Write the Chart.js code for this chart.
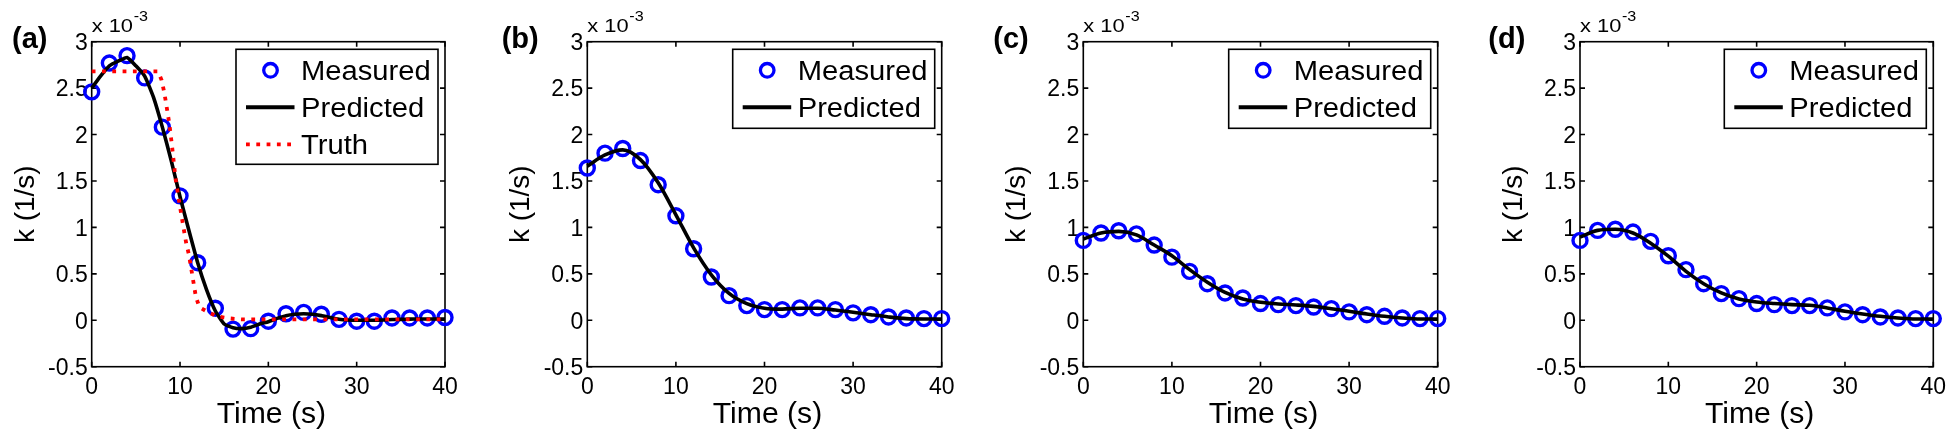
<!DOCTYPE html>
<html>
<head>
<meta charset="utf-8">
<script src="https://cdn.jsdelivr.net/npm/chart.js@4.4.1/dist/chart.umd.min.js"></script>
<style>
  html, body { margin: 0; padding: 0; background: #fff; }
  #wrap { position: relative; width: 1950px; height: 436px; overflow: hidden; }
  #wrap canvas { position: absolute; top: 0; }
</style>
</head>
<body>
<div id="wrap">
  <canvas id="pa" width="490" height="436" style="left:0px"></canvas>
  <canvas id="pb" width="485" height="436" style="left:490px"></canvas>
  <canvas id="pc" width="485" height="436" style="left:975px"></canvas>
  <canvas id="pd" width="490" height="436" style="left:1460px"></canvas>
</div>
<script>
// values in units of 1e-3 1/s (axis shows "x 10^-3")
const timeS = [0, 2, 4, 6, 8, 10, 12, 14, 16, 18, 20, 22, 24, 26, 28, 30, 32, 34, 36, 38, 40];

const measuredA = [2.46, 2.77, 2.85, 2.61, 2.08, 1.34, 0.62, 0.13, -0.095, -0.09, -0.01, 0.07, 0.085, 0.065, 0.01, -0.01, -0.01, 0.025, 0.025, 0.025, 0.03];
const predictedTimeA = [0, 1, 2, 3, 4, 5, 6, 7, 8, 9, 10, 11, 12, 13, 14, 15, 16, 17, 18, 19, 20,
                        21, 22, 23, 24, 25, 26, 27, 28, 29, 30, 31, 32, 33, 34, 35, 36, 37, 38, 39, 40];
const predictedA = [2.50, 2.63, 2.74, 2.79, 2.83, 2.74, 2.63, 2.40, 2.08, 1.72, 1.33, 0.97, 0.62, 0.33, 0.10, -0.04, -0.08, -0.09, -0.075, -0.04, -0.015,
                    0.02, 0.05, 0.065, 0.07, 0.065, 0.05, 0.03, 0.012, 0.003, 0, 0, 0, 0.003, 0.008, 0.01, 0.012, 0.014, 0.014, 0.014, 0.014];
const truthTime = [0, 7.5, 7.9, 8.2, 8.4, 8.6, 8.8, 9.1, 9.5, 9.9, 10.3, 10.7, 11.0, 11.4, 11.8, 12.2, 13.2, 14.3, 15.6, 17, 40];
const truthA = [2.68, 2.68, 2.59, 2.46, 2.35, 2.23, 2.11, 1.87, 1.52, 1.28, 1.05, 0.83, 0.71, 0.48, 0.25, 0.14, 0.086, 0.04, 0.02, 0.01, 0.01];

const measuredB = [1.64, 1.80, 1.85, 1.72, 1.46, 1.125, 0.77, 0.466, 0.265, 0.158, 0.115, 0.115, 0.133, 0.133, 0.115, 0.08, 0.06, 0.036, 0.025, 0.018, 0.018];
const predictedB = [1.66, 1.78, 1.835, 1.73, 1.48, 1.136, 0.78, 0.49, 0.29, 0.18, 0.13, 0.12, 0.13, 0.13, 0.11, 0.086, 0.06, 0.036, 0.018, 0.014, 0.014];

const measuredC = [0.86, 0.94, 0.964, 0.93, 0.81, 0.68, 0.527, 0.394, 0.294, 0.24, 0.18, 0.168, 0.158, 0.143, 0.125, 0.09, 0.06, 0.043, 0.025, 0.018, 0.018];
const predictedC = [0.875, 0.94, 0.957, 0.92, 0.81, 0.695, 0.545, 0.41, 0.30, 0.23, 0.194, 0.176, 0.165, 0.15, 0.125, 0.097, 0.068, 0.043, 0.025, 0.014, 0.014];

const measuredD = [0.86, 0.968, 0.98, 0.95, 0.85, 0.695, 0.545, 0.394, 0.287, 0.233, 0.18, 0.168, 0.158, 0.158, 0.133, 0.09, 0.06, 0.036, 0.025, 0.018, 0.018];
const predictedD = [0.896, 0.968, 0.98, 0.94, 0.83, 0.69, 0.527, 0.394, 0.294, 0.23, 0.197, 0.18, 0.168, 0.161, 0.133, 0.097, 0.068, 0.043, 0.025, 0.014, 0.014];

const xTicks = [0, 10, 20, 30, 40];
const xTickLabels = ['0', '10', '20', '30', '40'];
const yTicks = [-0.5, 0, 0.5, 1, 1.5, 2, 2.5, 3];
const yTickLabels = ['-0.5', '0', '0.5', '1', '1.5', '2', '2.5', '3'];
const panelLabels = ['(a)', '(b)', '(c)', '(d)'];
const seriesNames = ['Measured', 'Predicted', 'Truth'];

// layout of each panel inside its canvas
const panelBoxes = [
    { id: 'pa', width: 490, plotLeft: 91.7, plotRight: 445, labelX: 12 },
    { id: 'pb', width: 485, plotLeft: 97.3, plotRight: 451.7, labelX: 11.7 },
    { id: 'pc', width: 485, plotLeft: 108.3, plotRight: 462.7, labelX: 18.3 },
    { id: 'pd', width: 490, plotLeft: 120, plotRight: 473.3, labelX: 28.3 },
];
const PLOT_TOP = 41.7, PLOT_BOTTOM = 366.7, H = 436;
const FONT = '"Liberation Sans", Arial, Helvetica, sans-serif';
const BLUE = '#0000ff', RED = '#ff0000';

const pts = (xs, ys) => xs.map((x, i) => ({ x, y: ys[i] }));

function textAt(ctx, str, x, y, font, align, sx) {
    ctx.save();
    ctx.font = font;
    ctx.translate(x, y);
    ctx.scale(sx || 1, 1);
    ctx.textAlign = align || 'left';
    ctx.textBaseline = 'alphabetic';
    ctx.fillText(str, 0, 0);
    ctx.restore();
}

// matlab-like box with inward ticks, drawn under the data
const axesFrame = {
    id: 'axesFrame',
    beforeDatasetsDraw(chart) {
        const { ctx, chartArea: a, scales: { x, y } } = chart;
        ctx.save();
        ctx.strokeStyle = '#000';
        ctx.lineWidth = 1.6;
        ctx.strokeRect(a.left, a.top, a.width, a.height);
        ctx.beginPath();
        xTicks.forEach(v => {
            const px = x.getPixelForValue(v);
            ctx.moveTo(px, a.bottom); ctx.lineTo(px, a.bottom - 5);
            ctx.moveTo(px, a.top); ctx.lineTo(px, a.top + 5);
        });
        yTicks.forEach(v => {
            const py = y.getPixelForValue(v);
            ctx.moveTo(a.left, py); ctx.lineTo(a.left + 5, py);
            ctx.moveTo(a.right, py); ctx.lineTo(a.right - 5, py);
        });
        ctx.stroke();

        ctx.fillStyle = '#000';
        const tickFont = '23px ' + FONT;
        xTicks.forEach((v, i) => textAt(ctx, xTickLabels[i], x.getPixelForValue(v), 394, tickFont, 'center'));
        yTicks.forEach((v, i) => textAt(ctx, yTickLabels[i], a.left - 4, y.getPixelForValue(v) + 8.3, tickFont, 'right'));

        // exponent
        textAt(ctx, 'x 10', a.left, 32, '19px ' + FONT, 'left', 1.15);
        textAt(ctx, '-3', a.left + 42, 20.5, '14px ' + FONT, 'left', 1.15);

        // axis titles
        textAt(ctx, 'Time (s)', (a.left + a.right) / 2 + 3, 423, '29px ' + FONT, 'center', 1.04);
        ctx.save();
        ctx.translate(a.left - 58, (a.top + a.bottom) / 2);
        ctx.rotate(-Math.PI / 2);
        textAt(ctx, 'k (1/s)', 0, 0, '28px ' + FONT, 'center');
        ctx.restore();

        const o = chart.options.plugins.axesFrame;
        textAt(ctx, o.label, o.labelX, 47.5, 'bold 29px ' + FONT, 'left');
        ctx.restore();
    },
    afterDatasetsDraw(chart) {
        const { ctx, chartArea: a } = chart;
        const n = chart.data.datasets.length;
        const w = 202, hgt = n === 3 ? 115 : 79;
        const bx = a.right - 7 - w, by = a.top + 7.6;
        ctx.save();
        ctx.fillStyle = '#fff';
        ctx.fillRect(bx, by, w, hgt);
        ctx.strokeStyle = '#000';
        ctx.lineWidth = 1.6;
        ctx.strokeRect(bx, by, w, hgt);
        chart.data.datasets.forEach((ds, i) => {
            const cy = by + 21 + i * 37;
            ctx.save();
            if (i === 0) {
                ctx.strokeStyle = BLUE; ctx.lineWidth = 3.3;
                ctx.beginPath(); ctx.arc(bx + 34.5, cy, 6.8, 0, Math.PI * 2); ctx.stroke();
            } else {
                ctx.strokeStyle = ds.borderColor; ctx.lineWidth = i === 1 ? 4 : 3.8;
                if (ds.borderDash) ctx.setLineDash(ds.borderDash);
                ctx.beginPath(); ctx.moveTo(bx + 10, cy); ctx.lineTo(bx + 58.5, cy); ctx.stroke();
            }
            ctx.restore();
            ctx.fillStyle = '#000';
            textAt(ctx, ds.label, bx + 65, cy + 10, '27px ' + FONT, 'left', 1.08);
        });
        ctx.restore();
    }
};

function makePanel(k, measured, predX, predY, truth) {
    const box = panelBoxes[k];
    const datasets = [
        {
            label: seriesNames[0], data: pts(timeS, measured), showLine: false,
            pointRadius: 7, pointBorderWidth: 3.4, pointBorderColor: BLUE,
            pointBackgroundColor: 'rgba(0,0,0,0)', borderColor: BLUE, order: 3, clip: false,
        },
        {
            label: seriesNames[1], data: pts(predX, predY), borderColor: '#000', borderWidth: 3.6,
            pointRadius: 0, fill: false, order: 2, clip: false,
            cubicInterpolationMode: k === 0 ? 'default' : 'monotone', tension: k === 0 ? 0.15 : 0.4,
        },
    ];
    if (truth) {
        datasets.push({
            label: seriesNames[2], data: truth, borderColor: RED, borderWidth: 3.8,
            borderDash: [3.8, 6.5], pointRadius: 0, fill: false, tension: 0, order: 1, clip: false,
        });
    }
    new Chart(document.getElementById(box.id), {
        type: 'line',
        data: { datasets },
        options: {
            responsive: false,
            animation: false,
            events: [],
            layout: {
                padding: {
                    left: box.plotLeft, right: box.width - box.plotRight,
                    top: PLOT_TOP, bottom: H - PLOT_BOTTOM,
                },
            },
            plugins: {
                legend: { display: false },
                tooltip: { enabled: false },
                axesFrame: { label: panelLabels[k], labelX: box.labelX },
            },
            scales: {
                x: { type: 'linear', min: 0, max: 40, display: false },
                y: { type: 'linear', min: -0.5, max: 3, display: false },
            },
        },
        plugins: [axesFrame],
    });
}

makePanel(0, measuredA, predictedTimeA, predictedA, pts(truthTime, truthA));
makePanel(1, measuredB, timeS, predictedB);
makePanel(2, measuredC, timeS, predictedC);
makePanel(3, measuredD, timeS, predictedD);
</script>
</body>
</html>
